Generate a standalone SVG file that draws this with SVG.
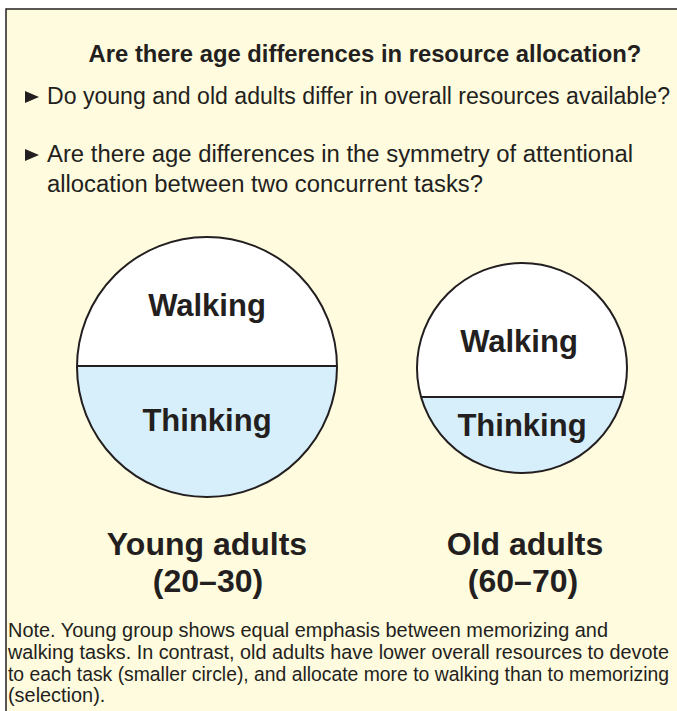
<svg xmlns="http://www.w3.org/2000/svg" width="677" height="711" viewBox="0 0 677 711">
<style>
text{font-family:"Liberation Sans",Arial,Helvetica,sans-serif;fill:#231F20}
.b{font-weight:bold}
.body{font-size:23px}
.lbl{font-size:31px;font-weight:bold;text-anchor:middle}
.grp{font-size:32px;font-weight:bold;text-anchor:middle}
.note{font-size:19.9px}
.note.sm{font-size:19.3px}
.ln{stroke:#231F20;stroke-width:2;fill:none}
.tri{fill:#231F20}
</style>
<defs>
<clipPath id="cy"><circle cx="207" cy="367" r="130"/></clipPath>
<clipPath id="co"><circle cx="522" cy="368" r="105"/></clipPath>
</defs>
<rect id="panel" x="6" y="9" width="690" height="720" fill="#FFFBDE" stroke="#231F20" stroke-width="1.5"/>
<g id="header">
<text class="b" x="365" y="62" font-size="23.8" text-anchor="middle">Are there age differences in resource allocation?</text>
<polygon class="tri" points="25,91 39,97 25,103"/>
<text class="body" x="47" y="104" textLength="623" lengthAdjust="spacingAndGlyphs">Do young and old adults differ in overall resources available?</text>
<polygon class="tri" points="25,149 39,155 25,161"/>
<text class="body" x="47" y="162" textLength="586" lengthAdjust="spacingAndGlyphs">Are there age differences in the symmetry of attentional</text>
<text class="body" x="47" y="192" textLength="436" lengthAdjust="spacingAndGlyphs">allocation between two concurrent tasks?</text>
</g>
<g id="young">
<circle cx="207" cy="367" r="130" fill="#FFFFFF"/>
<rect x="70" y="366" width="280" height="140" fill="#D6EFFA" clip-path="url(#cy)"/>
<line class="ln" x1="77" y1="366" x2="337" y2="366"/>
<circle class="ln" cx="207" cy="367" r="130"/>
<text class="lbl" x="207" y="316">Walking</text>
<text class="lbl" x="207" y="431">Thinking</text>
<text class="grp" x="207" y="555">Young adults</text>
<text class="grp" x="208" y="592">(20–30)</text>
</g>
<g id="old">
<circle cx="522" cy="368" r="105" fill="#FFFFFF"/>
<rect x="410" y="397" width="230" height="90" fill="#D6EFFA" clip-path="url(#co)"/>
<line class="ln" x1="421" y1="397" x2="623" y2="397"/>
<circle class="ln" cx="522" cy="368" r="105"/>
<text class="lbl" x="519" y="352">Walking</text>
<text class="lbl" x="522" y="436">Thinking</text>
<text class="grp" x="525" y="555">Old adults</text>
<text class="grp" x="523" y="592">(60–70)</text>
</g>
<g id="connectors"/>
<g id="note">
<text class="note" x="8" y="637" textLength="600" lengthAdjust="spacingAndGlyphs">Note. Young group shows equal emphasis between memorizing and</text>
<text class="note" x="8" y="659" textLength="661" lengthAdjust="spacingAndGlyphs">walking tasks. In contrast, old adults have lower overall resources to devote</text>
<text class="note sm" x="8" y="681" textLength="661" lengthAdjust="spacingAndGlyphs">to each task (smaller circle), and allocate more to walking than to memorizing</text>
<text class="note" x="8" y="702">(selection).</text>
</g>
</svg>
